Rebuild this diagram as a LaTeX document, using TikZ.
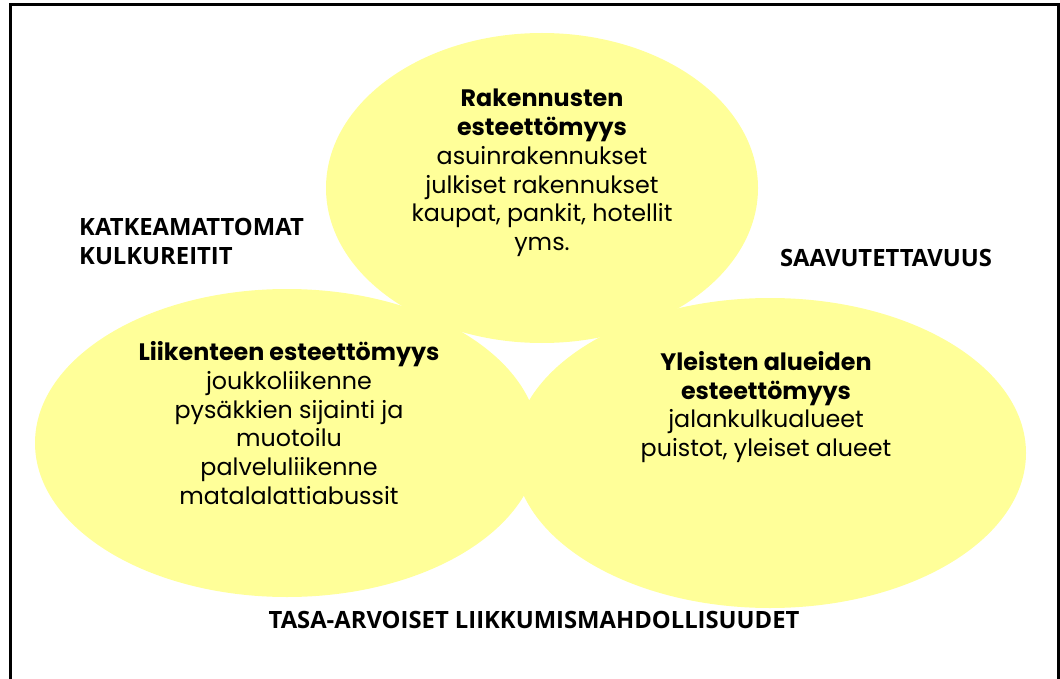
\documentclass[tikz,border=0pt]{standalone}
\usepackage{fontspec}
\usepackage{tikz}
\newfontfamily\gothic{Poppins}
\newfontfamily\capsfont{Open Sans}
\definecolor{paleyellow}{HTML}{FFFF99}

\begin{document}
\begin{tikzpicture}[x=1pt,y=-1pt,
    bubble/.style={fill=paleyellow},
    bubbletext/.style={align=center,inner sep=0pt,font=\gothic\fontsize{23.8}{28.8}\selectfont},
    sidelabel/.style={align=left,inner sep=0pt,font=\capsfont\bfseries\fontsize{23.8}{29}\selectfont}]
  \useasboundingbox (0,0) rectangle (1060,679);
  \draw[line width=3pt] (10,690) -- (10,5) -- (1058.5,5) -- (1058.5,690);
  \fill[bubble] (542,188) ellipse [x radius=216, y radius=155];
  \fill[bubble] (287,443) ellipse [x radius=252, y radius=154];
  \fill[bubble] (770,453) ellipse [x radius=256, y radius=155];
  \node[bubbletext] (rakennukset) at (542,173)
    {\textbf{Rakennusten}\\\textbf{esteettömyys}\\asuinrakennukset\\julkiset rakennukset\\kaupat, pankit, hotellit\\yms.};
  \node[bubbletext] (liikenne) at (289,423)
    {\textbf{Liikenteen esteettömyys}\\joukkoliikenne\\pysäkkien sijainti ja\\muotoilu\\palveluliikenne\\matalalattiabussit};
  \node[bubbletext] (alueet) at (766,407)
    {\textbf{Yleisten alueiden}\\\textbf{esteettömyys}\\jalankulkualueet\\puistot, yleiset alueet};
  \node[sidelabel,anchor=west] (kulkureitit) at (79,241) {KATKEAMATTOMAT\\KULKUREITIT};
  \node[sidelabel] (saavutettavuus) at (886,258) {SAAVUTETTAVUUS};
  \node[sidelabel] (mahdollisuudet) at (534,620) {TASA-ARVOISET LIIKKUMISMAHDOLLISUUDET};
\end{tikzpicture}
\end{document}
